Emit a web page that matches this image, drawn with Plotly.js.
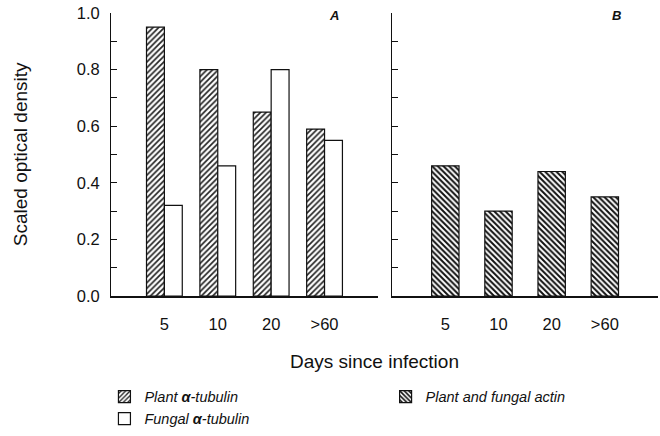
<!DOCTYPE html>
<html>
<head>
<meta charset="utf-8">
<script src="https://cdn.plot.ly/plotly-3.0.1.min.js"></script>
<style>html,body{margin:0;padding:0;background:#fff;}#chart{width:660px;height:436px;}</style>
</head>
<body>
<div id="chart"></div>
<script>
const days = ['5', '10', '20', '>60'];
const dayPos = [1, 2, 3, 4];
const plantTubulin = [0.95, 0.80, 0.65, 0.59];
const fungalTubulin = [0.32, 0.46, 0.80, 0.55];
const actin = [0.46, 0.30, 0.44, 0.35];
const yTickVals = [0, 0.1, 0.2, 0.3, 0.4, 0.5, 0.6, 0.7, 0.8, 0.9, 1.0];
const yTickText = ['0.0', '', '0.2', '', '0.4', '', '0.6', '', '0.8', '', '1.0'];

const font = {family: 'Arial, "Liberation Sans", sans-serif', color: '#111'};

const traces = [
  {type: 'bar', x: dayPos, y: plantTubulin, xaxis: 'x', yaxis: 'y',
   name: 'Plant <b>α</b>-tubulin', legend: 'legend',
   marker: {color: '#fff', line: {color: '#111', width: 1.2},
     pattern: {shape: '/', size: 4, solidity: 0.42, fgcolor: '#222', bgcolor: '#fff'}}},
  {type: 'bar', x: dayPos, y: fungalTubulin, xaxis: 'x', yaxis: 'y',
   name: 'Fungal <b>α</b>-tubulin', legend: 'legend',
   marker: {color: '#fff', line: {color: '#111', width: 1.2}}},
  {type: 'bar', x: dayPos, y: actin, xaxis: 'x2', yaxis: 'y2', width: 0.515,
   name: 'Plant and fungal actin', legend: 'legend2',
   marker: {color: '#fff', line: {color: '#111', width: 1.2},
     pattern: {shape: '\\', size: 4, solidity: 0.5, fgcolor: '#111', bgcolor: '#fff'}}}
];

const xBase = {range: [0, 5], tickvals: dayPos, ticktext: days, ticks: '',
  showline: true, linecolor: '#111', linewidth: 1.5, showgrid: false, zeroline: false,
  ticklabelstandoff: 13, tickfont: Object.assign({size: 16.5}, font), fixedrange: true};
const yBase = {range: [0, 1.0], tickvals: yTickVals, ticks: 'inside', ticklen: 6,
  tickcolor: '#111', showline: true, linecolor: '#111', linewidth: 1, showgrid: false,
  zeroline: false, tickfont: Object.assign({size: 16.5}, font), fixedrange: true};

const layout = {
  width: 660, height: 436,
  margin: {l: 111, r: 2, t: 13, b: 139},
  paper_bgcolor: '#fff', plot_bgcolor: '#fff',
  barmode: 'group', bargap: 0.33, bargroupgap: 0,
  showlegend: true,
  xaxis: Object.assign({}, xBase, {domain: [0, 0.488], anchor: 'y'}),
  xaxis2: Object.assign({}, xBase, {domain: [0.514, 1], anchor: 'y2'}),
  yaxis: Object.assign({}, yBase, {ticktext: yTickText, anchor: 'x', ticklabelstandoff: 7}),
  yaxis2: Object.assign({}, yBase, {anchor: 'x2', showticklabels: false}),
  legend: {x: -0.012, y: -0.295, xanchor: 'left', yanchor: 'top', traceorder: 'normal',
    font: Object.assign({size: 14.5, style: 'italic'}, font), bgcolor: 'rgba(0,0,0,0)',
    tracegroupgap: 0, itemwidth: 30},
  legend2: {x: 0.502, y: -0.295, xanchor: 'left', yanchor: 'top',
    font: Object.assign({size: 14.5, style: 'italic'}, font), bgcolor: 'rgba(0,0,0,0)', itemwidth: 30},
  annotations: [
    {text: 'Scaled optical density', xref: 'paper', yref: 'paper', x: -0.165, y: 0.5,
     xanchor: 'center', yanchor: 'middle', textangle: -90, showarrow: false,
     font: Object.assign({size: 19}, font)},
    {text: 'Days since infection', xref: 'paper', yref: 'paper', x: 0.481, y: -0.232,
     xanchor: 'center', yanchor: 'middle', showarrow: false,
     font: Object.assign({size: 19}, font)},
    {text: '<b><i>A</i></b>', xref: 'paper', yref: 'paper', x: 0.407, y: 0.99,
     xanchor: 'center', yanchor: 'middle', showarrow: false, font: Object.assign({size: 13}, font)},
    {text: '<b><i>B</i></b>', xref: 'paper', yref: 'paper', x: 0.925, y: 0.99,
     xanchor: 'center', yanchor: 'middle', showarrow: false, font: Object.assign({size: 13}, font)}
  ]
};

Plotly.newPlot('chart', traces, layout, {staticPlot: true, displayModeBar: false});
</script>
</body>
</html>
